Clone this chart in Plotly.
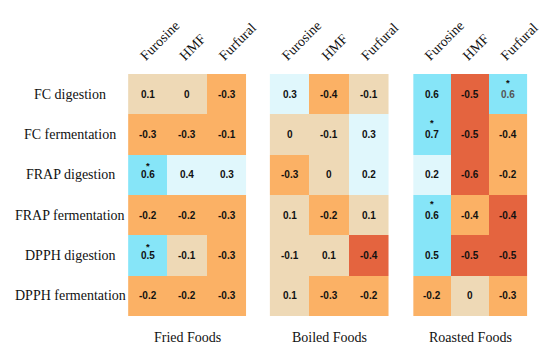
import plotly.graph_objects as go

compounds = ["Furosine", "HMF", "Furfural"]
assays = ["FC digestion", "FC fermentation", "FRAP digestion",
          "FRAP fermentation", "DPPH digestion", "DPPH fermentation"]
panels = ["Fried Foods", "Boiled Foods", "Roasted Foods"]

fried_values = [[0.1, 0, -0.3], [-0.3, -0.3, -0.1], [0.6, 0.4, 0.3],
                [-0.2, -0.2, -0.3], [0.5, -0.1, -0.3], [-0.2, -0.2, -0.3]]
boiled_values = [[0.3, -0.4, -0.1], [0, -0.1, 0.3], [-0.3, 0, 0.2],
                 [0.1, -0.2, 0.1], [-0.1, 0.1, -0.4], [0.1, -0.3, -0.2]]
roasted_values = [[0.6, -0.5, 0.6], [0.7, -0.5, -0.4], [0.2, -0.6, -0.2],
                  [0.6, -0.4, -0.4], [0.5, -0.5, -0.5], [-0.2, 0, -0.3]]

# colour class of each cell (0 strong negative ... 4 strong positive)
fried_levels = [[2, 2, 1], [1, 1, 1], [4, 3, 3], [1, 1, 1], [4, 2, 1], [1, 1, 1]]
boiled_levels = [[3, 1, 2], [2, 2, 3], [1, 2, 3], [2, 1, 2], [2, 2, 0], [2, 1, 1]]
roasted_levels = [[4, 0, 4], [4, 0, 1], [3, 0, 1], [4, 1, 0], [4, 0, 0], [1, 2, 1]]

# significance markers
fried_stars = [[0, 0, 0], [0, 0, 0], [1, 0, 0], [0, 0, 0], [1, 0, 0], [0, 0, 0]]
boiled_stars = [[0, 0, 0]] * 6
roasted_stars = [[0, 0, 1], [1, 0, 0], [0, 0, 0], [1, 0, 0], [0, 0, 0], [0, 0, 0]]

level_colors = ["#e4643f", "#fbb165", "#eed9b6", "#e0f7fc", "#86e5f8"]

values_all = [fried_values, boiled_values, roasted_values]
levels_all = [fried_levels, boiled_levels, roasted_levels]
stars_all = [fried_stars, boiled_stars, roasted_stars]

W, H = 550, 348
x_domains = [(123 / W, 244 / W), (268 / W, 390 / W), (415 / W, 532 / W)]
y_domain = (1 - 308 / H, 1 - 66 / H)
star_shift = [9, 9, 12]

n = len(level_colors)
colorscale = []
for i, c in enumerate(level_colors):
    colorscale.append([i / n, c])
    colorscale.append([(i + 1) / n, c])

fig = go.Figure()
annotations = []
for p in range(3):
    xa = "x" if p == 0 else f"x{p + 1}"
    ya = "y" if p == 0 else f"y{p + 1}"
    fig.add_trace(go.Heatmap(
        z=levels_all[p], x=compounds, y=assays,
        colorscale=colorscale, zmin=-0.5, zmax=n - 0.5,
        showscale=False, hoverinfo="skip",
        xaxis=xa, yaxis=ya,
    ))
    for r, a in enumerate(assays):
        for c, comp in enumerate(compounds):
            v = values_all[p][r][c]
            star = stars_all[p][r][c]
            col = "#555555" if (p == 2 and r == 0 and c == 2) else "#111111"
            annotations.append(dict(
                x=comp, y=a, xref=xa, yref=ya, text=f"<b>{v:g}</b>",
                showarrow=False, font=dict(family="Arial, Liberation Sans", size=10, color=col),
            ))
            if star:
                annotations.append(dict(
                    x=comp, y=a, xref=xa, yref=ya, text="<b>*</b>",
                    showarrow=False, yshift=star_shift[p],
                    font=dict(family="Arial, Liberation Sans", size=9.5, color="#111111"),
                ))
    annotations.append(dict(
        x=0.5, y=1 - 329 / H, xref=f"{xa} domain", yref="paper", text=panels[p],
        showarrow=False, xanchor="center", yanchor="middle",
        font=dict(family="Liberation Serif", size=14, color="#111111"),
    ))

for a in assays:
    annotations.append(dict(
        x=64 / W, y=a, xref="paper", yref="y", text=a, showarrow=False,
        xanchor="center", yanchor="middle",
        font=dict(family="Liberation Serif", size=14, color="#111111"),
    ))

layout = dict(
    width=W, height=H, margin=dict(l=0, r=0, t=0, b=0),
    paper_bgcolor="white", plot_bgcolor="white",
    annotations=annotations, showlegend=False,
)
for p in range(3):
    sfx = "" if p == 0 else str(p + 1)
    layout[f"xaxis{sfx}"] = dict(
        domain=list(x_domains[p]), anchor=f"y{sfx}", side="top",
        tickangle=-45, showgrid=False, zeroline=False, showline=False, ticks="",
        tickfont=dict(family="Liberation Serif", size=14, color="#111111"),
        ticklabelshift=-7, ticklabelstandoff=7,
        fixedrange=True,
    )
    layout[f"yaxis{sfx}"] = dict(
        domain=list(y_domain), anchor=f"x{sfx}", autorange="reversed",
        showticklabels=False, showgrid=False, zeroline=False, ticks="",
        fixedrange=True,
    )
fig.update_layout(**layout)
fig.write_html("out.html")
